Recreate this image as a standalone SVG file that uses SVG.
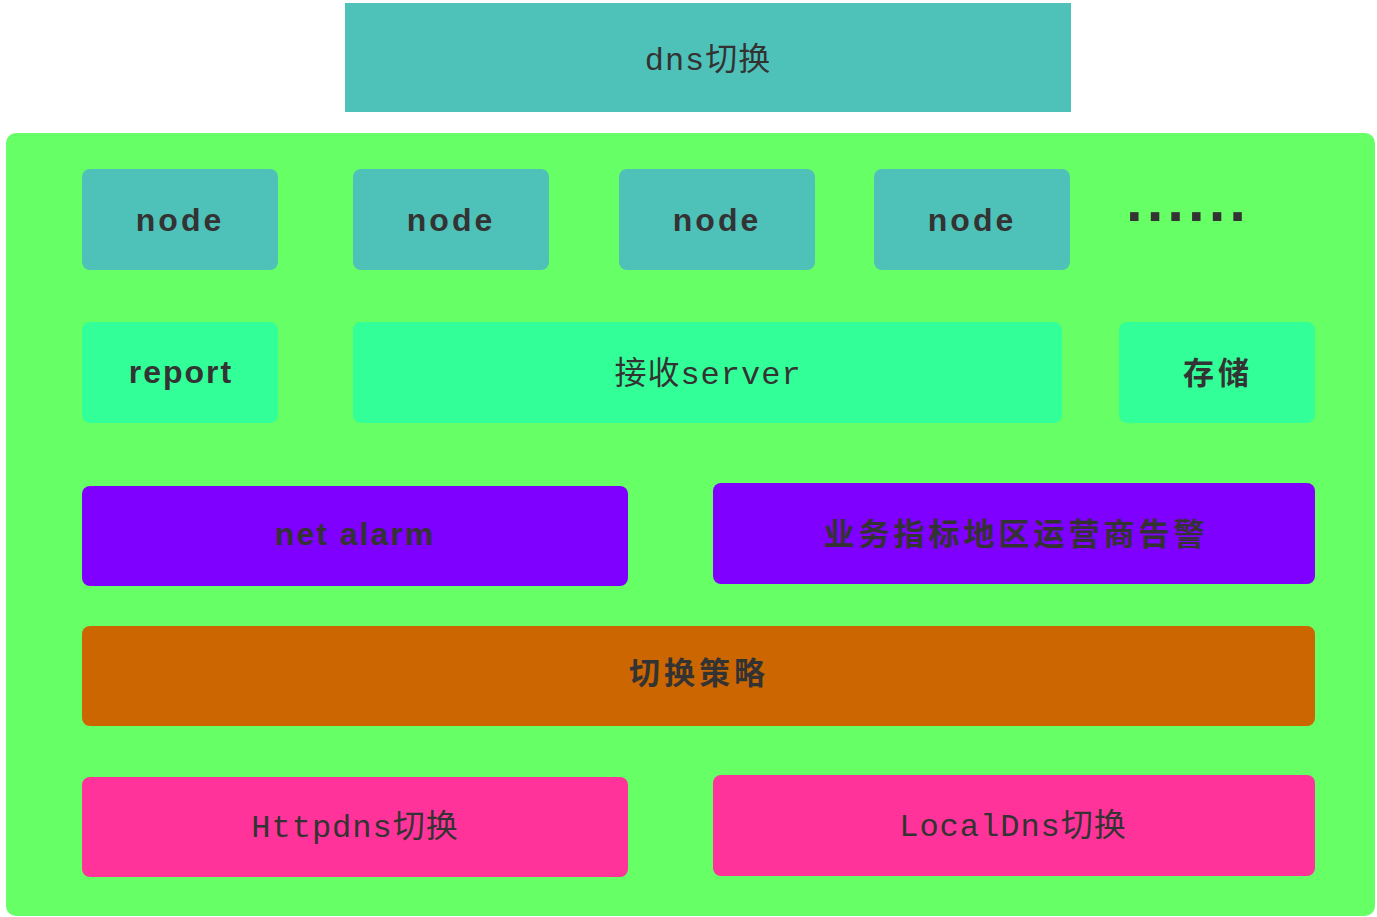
<svg xmlns="http://www.w3.org/2000/svg" width="1377" height="917" viewBox="0 0 1377 917">
<style>
  .box{stroke:none}
  .teal{fill:#4EC2B9}
  .mint{fill:#33FF99}
  .purple{fill:#8000FF}
  .orange{fill:#CC6600}
  .pink{fill:#FF3399}
  .sans{font-family:"Liberation Sans","Noto Sans CJK SC",sans-serif;font-weight:bold;font-size:32px;fill:#333;text-anchor:middle;letter-spacing:2px}
  .cjk{font-family:"Noto Sans CJK SC",sans-serif;font-weight:bold;font-size:31px;fill:#333;text-anchor:middle;letter-spacing:4px}
  .mono{font-family:"Liberation Mono","Noto Sans CJK SC",monospace;font-size:32px;fill:#333;text-anchor:middle;letter-spacing:1px}
</style>
<rect width="1377" height="917" fill="#ffffff"/>
<g id="dns-switch">
  <rect class="box teal" x="345" y="3" width="726" height="109"/>
  <text class="mono" x="708" y="70">dns切换</text>
</g>
<g id="container">
  <rect x="6" y="133" width="1369" height="783" rx="10" fill="#66FF66"/>
</g>
<g id="node1">
  <rect class="box teal" x="82" y="169" width="196" height="101" rx="8"/>
  <text class="sans" x="180" y="231" style="letter-spacing:3px">node</text>
</g>
<g id="node2">
  <rect class="box teal" x="353" y="169" width="196" height="101" rx="8"/>
  <text class="sans" x="451" y="231" style="letter-spacing:3px">node</text>
</g>
<g id="node3">
  <rect class="box teal" x="619" y="169" width="196" height="101" rx="8"/>
  <text class="sans" x="717" y="231" style="letter-spacing:3px">node</text>
</g>
<g id="node4">
  <rect class="box teal" x="874" y="169" width="196" height="101" rx="8"/>
  <text class="sans" x="972" y="231" style="letter-spacing:3px">node</text>
</g>
<g id="ellipsis">
  <text x="1126" y="221" font-family="Liberation Sans, sans-serif" font-weight="bold" font-size="60" fill="#333" letter-spacing="4">......</text>
</g>
<g id="report">
  <rect class="box mint" x="82" y="322" width="196" height="101" rx="8"/>
  <text class="sans" x="181" y="383">report</text>
</g>
<g id="receive-server">
  <rect class="box mint" x="353" y="322" width="709" height="101" rx="8"/>
  <text class="mono" x="708" y="384">接收server</text>
</g>
<g id="storage">
  <rect class="box mint" x="1119" y="322" width="196" height="101" rx="8"/>
  <text class="cjk" x="1218" y="384">存储</text>
</g>
<g id="net-alarm">
  <rect class="box purple" x="82" y="486" width="546" height="100" rx="8"/>
  <text class="sans" x="355" y="545">net alarm</text>
</g>
<g id="biz-alarm">
  <rect class="box purple" x="713" y="483" width="602" height="101" rx="8"/>
  <text class="cjk" x="1016" y="545">业务指标地区运营商告警</text>
</g>
<g id="switch-policy">
  <rect class="box orange" x="82" y="626" width="1233" height="100" rx="8"/>
  <text class="cjk" x="699" y="684">切换策略</text>
</g>
<g id="httpdns-switch">
  <rect class="box pink" x="82" y="777" width="546" height="100" rx="8"/>
  <text class="mono" x="355" y="837">Httpdns切换</text>
</g>
<g id="localdns-switch">
  <rect class="box pink" x="713" y="775" width="602" height="101" rx="8"/>
  <text class="mono" x="1013" y="836">LocalDns切换</text>
</g>
<g id="connectors"></g>
</svg>
